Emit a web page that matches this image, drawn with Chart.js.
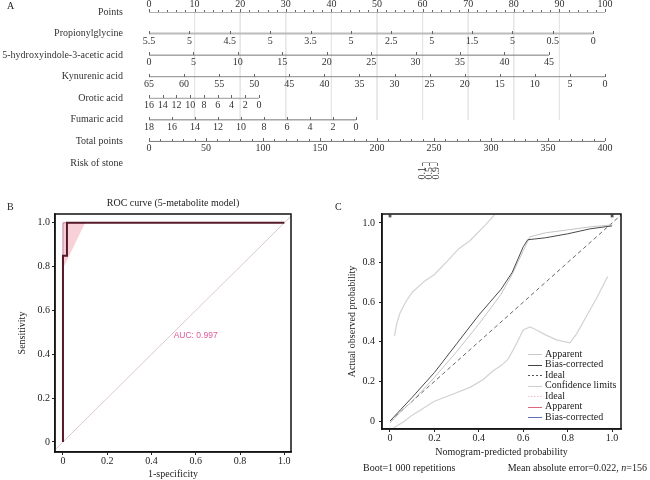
<!DOCTYPE html>
<html>
<head>
<meta charset="utf-8">
<script src="https://cdn.jsdelivr.net/npm/chart.js@4.4.0/dist/chart.umd.min.js"></script>
<style>
  body { margin: 0; background: #fff; }
  #wrap { position: relative; width: 650px; height: 480px; overflow: hidden; background: #fff; }
  canvas { position: absolute; }
</style>
</head>
<body>
<div id="wrap">
  <canvas id="nomogram" width="650" height="180" style="left:0px;top:0px"></canvas>
  <canvas id="roc" width="325" height="300" style="left:0px;top:180px"></canvas>
  <canvas id="calib" width="325" height="300" style="left:325px;top:180px"></canvas>
</div>
<script>
// ---- panel A: nomogram ----
var rowNames = ["Points", "Propionylglycine", "5-hydroxyindole-3-acetic acid", "Kynurenic acid",
  "Orotic acid", "Fumaric acid", "Total points", "Risk of stone"];
var pointsTicks = [0, 10, 20, 30, 40, 50, 60, 70, 80, 90, 100];
var propTicks = [5.5, 5, 4.5, 4, 3.5, 3, 2.5, 2, 1.5, 1, 0.5, 0];
var propLabels = ["5.5", "5", "4.5", "5", "3.5", "5", "2.5", "5", "1.5", "5", "0.5", "0"];
var propPointEnds = [0, 97.4];
var hiaaTicks = [0, 5, 10, 15, 20, 25, 30, 35, 40, 45];
var hiaaPointEnds = [0, 87.7];
var kynTicks = [65, 60, 55, 50, 45, 40, 35, 30, 25, 20, 15, 10, 5, 0];
var kynPointEnds = [0, 100];
var oroticTicks = [16, 14, 12, 10, 8, 6, 4, 2, 0];
var oroticPointEnds = [0, 24.1];
var fumaricTicks = [18, 16, 14, 12, 10, 8, 6, 4, 2, 0];
var fumaricPointEnds = [0, 45.4];
var totalTicks = [0, 50, 100, 150, 200, 250, 300, 350, 400];
var riskTicks = [0.1, 0.5, 0.9];
var riskTotals = [239.5, 246, 252.5];

// ---- panel B: ROC ----
var rocFpr = [0, 0, 0.018, 0.018, 1];
var rocTpr = [0, 0.85, 0.85, 1, 1];
var ciFpr = [0, 0, 0.1];
var ciTpr = [0.79, 1, 1];
var chanceFpr = [-0.05, 1.05];
var chanceTpr = [-0.05, 1.05];
var aucText = "AUC: 0.997";

// ---- panel C: calibration ----
var apparentX = [0, 0.05, 0.1, 0.2, 0.3, 0.4, 0.5, 0.55, 0.6, 0.63, 0.7, 0.8, 0.9, 1.0];
var apparentY = [-0.01, 0.05, 0.1, 0.22, 0.35, 0.49, 0.64, 0.74, 0.86, 0.93, 0.95, 0.965, 0.98, 0.99];
var biasX = [0, 0.05, 0.1, 0.2, 0.3, 0.4, 0.45, 0.5, 0.55, 0.6, 0.62, 0.7, 0.8, 0.9, 1.0];
var biasY = [0, 0.06, 0.12, 0.245, 0.39, 0.535, 0.6, 0.665, 0.75, 0.88, 0.915, 0.925, 0.945, 0.97, 0.985];
var idealX = [0, 1.05];
var idealY = [0, 1.05];
var upperX = [0.02, 0.03, 0.045, 0.07, 0.1, 0.16, 0.2, 0.26, 0.31, 0.36, 0.43, 0.47];
var upperY = [0.43, 0.49, 0.545, 0.6, 0.65, 0.71, 0.74, 0.81, 0.87, 0.91, 0.99, 1.04];
var lowerX = [0.015, 0.06, 0.1, 0.2, 0.27, 0.36, 0.42, 0.46, 0.5, 0.53, 0.56, 0.6, 0.63, 0.66, 0.7, 0.75, 0.81, 0.84, 0.88, 0.93, 0.98];
var lowerY = [-0.035, -0.005, 0.03, 0.1, 0.13, 0.17, 0.21, 0.25, 0.28, 0.31, 0.37, 0.46, 0.475, 0.46, 0.435, 0.41, 0.395, 0.44, 0.52, 0.62, 0.73];
var rugX = [0, 1];
var rugY = [1.035, 1.035];
var legendNames = ["Apparent", "Bias-corrected", "Ideal", "Confidence limits", "Ideal", "Apparent", "Bias-corrected"];
var probTicks = [0, 0.2, 0.4, 0.6, 0.8, 1.0];

var SERIF = '"Liberation Serif", "Times New Roman", serif';
Chart.defaults.font.family = SERIF;
Chart.defaults.font.size = 10;
Chart.defaults.color = "#222";
Chart.defaults.animation = false;

function zip(xs, ys) {
  return xs.map(function(x, i) { return {x: x, y: ys[i]}; });
}
// linear nomogram axis: tick value -> points
function toPts(vals, ends, ptEnds) {
  return vals.map(function(v) {
    return ptEnds[0] + (v - ends[0]) / (ends[1] - ends[0]) * (ptEnds[1] - ptEnds[0]);
  });
}
function range(a, b, step) {
  var out = [];
  for (var v = a; v <= b + 1e-9; v += step) out.push(v);
  return out;
}

var axisRows = [
  {row: 0, pts: pointsTicks, labels: pointsTicks.map(String), above: true, minor: range(0, 100, 2), color: "#666", width: 1},
  {row: 1, pts: toPts(propTicks, [5.5, 0], propPointEnds), labels: propLabels, color: "#bbb", width: 2},
  {row: 2, pts: toPts(hiaaTicks, [0, 45], hiaaPointEnds), labels: hiaaTicks.map(String), color: "#777", width: 1},
  {row: 3, pts: toPts(kynTicks, [65, 0], kynPointEnds), labels: kynTicks.map(String), color: "#888", width: 1},
  {row: 4, pts: toPts(oroticTicks, [16, 0], oroticPointEnds), labels: oroticTicks.map(String), color: "#999", width: 1},
  {row: 5, pts: toPts(fumaricTicks, [18, 0], fumaricPointEnds), labels: fumaricTicks.map(String), color: "#777", width: 1},
  {row: 6, pts: toPts(totalTicks, [0, 400], [0, 100]), labels: totalTicks.map(String), minor: range(0, 100, 2.5), color: "#777", width: 1},
  {row: 7, pts: toPts(riskTotals, [0, 400], [0, 100]), labels: riskTicks.map(String), rotated: true, color: "#777", width: 1}
];

var nomoSets = [];
axisRows.forEach(function(r) {
  nomoSets.push({
    data: [{x: Math.min.apply(null, r.pts), y: r.row}, {x: Math.max.apply(null, r.pts), y: r.row}],
    showLine: true, borderColor: r.color, borderWidth: r.width, pointRadius: 0
  });
});
pointsTicks.slice(1, -1).forEach(function(p) {
  nomoSets.push({
    data: [{x: p, y: 0}, {x: p, y: 5}],
    showLine: true, borderColor: "#e6e6e6", borderWidth: 1, pointRadius: 0
  });
});

// tick marks and tick labels of every nomogram row
var nomogramAxes = {
  id: "nomogramAxes",
  afterDatasetsDraw: function(chart) {
    var ctx = chart.ctx, x = chart.scales.x, y = chart.scales.y;
    ctx.save();
    ctx.font = "10px " + SERIF;
    ctx.fillStyle = "#333";
    ctx.strokeStyle = "#666";
    ctx.lineWidth = 1;
    axisRows.forEach(function(r) {
      var py = Math.round(y.getPixelForValue(r.row));
      ctx.beginPath();
      (r.minor || []).forEach(function(p) {
        var px = Math.round(x.getPixelForValue(p)) + 0.5;
        ctx.moveTo(px, py); ctx.lineTo(px, py - 2);
      });
      r.pts.forEach(function(p) {
        var px = Math.round(x.getPixelForValue(p)) + 0.5;
        ctx.moveTo(px, py); ctx.lineTo(px, r.rotated ? py + 3 : py - 3);
      });
      ctx.stroke();
      r.labels.forEach(function(lab, i) {
        var px = x.getPixelForValue(r.pts[i]);
        if (r.rotated) {
          ctx.save();
          ctx.translate(px, py + 4);
          ctx.rotate(-Math.PI / 2);
          ctx.textAlign = "right";
          ctx.textBaseline = "middle";
          ctx.fillText(lab, 0, 0);
          ctx.restore();
        } else {
          ctx.textAlign = "center";
          ctx.textBaseline = "middle";
          ctx.fillText(lab, px, r.above ? py - 8 : py + 7.5);
        }
      });
    });
    ctx.restore();
  }
};

// free text: panel letters, notes
var notes = {
  id: "notes",
  afterDraw: function(chart, args, opts) {
    var ctx = chart.ctx;
    ctx.save();
    (opts.items || []).forEach(function(it) {
      ctx.font = (it.size || 10) + "px " + (it.family || SERIF);
      ctx.fillStyle = it.color || "#222";
      ctx.textAlign = it.align || "left";
      ctx.textBaseline = "middle";
      var px = it.data ? chart.scales.x.getPixelForValue(it.x) : it.x;
      var py = it.data ? chart.scales.y.getPixelForValue(it.y) : it.y;
      ctx.fillText(it.text, px, py);
    });
    ctx.restore();
  }
};

var frame = {
  id: "frame",
  afterDatasetsDraw: function(chart) {
    var a = chart.chartArea, ctx = chart.ctx;
    ctx.save();
    ctx.strokeStyle = "#111";
    ctx.lineWidth = 1.5;
    ctx.strokeRect(a.left, a.top, a.right - a.left, a.bottom - a.top);
    ctx.restore();
  }
};

new Chart(document.getElementById("nomogram"), {
  type: "scatter",
  data: {datasets: nomoSets},
  options: {
    responsive: false,
    layout: {padding: {left: 0, right: 45, top: 12, bottom: 17}},
    plugins: {
      legend: {display: false},
      tooltip: {enabled: false},
      notes: {items: [{text: "A", x: 7, y: 6}]}
    },
    scales: {
      x: {type: "linear", min: 0, max: 100, display: false},
      y: {
        type: "linear", min: 0, max: 7, reverse: true,
        afterBuildTicks: function(s) { s.ticks = rowNames.map(function(n, i) { return {value: i}; }); },
        // hidden tick marks give the gap between row names and the axes
        grid: {display: false, drawTicks: true, tickLength: 26}, border: {display: false},
        ticks: {padding: 0, color: "#333", autoSkip: false, callback: function(v) { return rowNames[v]; }},
        afterFit: function(s) { s.width = 149; }
      }
    }
  },
  plugins: [nomogramAxes, notes]
});

function probAxis(o) {
  return {
    type: "linear", min: o.min, max: o.max,
    afterBuildTicks: function(s) { s.ticks = probTicks.map(function(v) { return {value: v}; }); },
    ticks: {padding: o.pad, color: "#222", callback: function(v) { return v === 0 ? "0" : v.toFixed(1); }},
    grid: {drawOnChartArea: false, drawTicks: true, tickLength: 3, color: "#222"},
    border: {display: true, color: "#222", width: 1.5},
    title: {display: true, text: o.title, color: "#222", padding: o.titlePad},
    afterFit: o.fit
  };
}

// ---- B ----
new Chart(document.getElementById("roc"), {
  type: "scatter",
  data: {
    datasets: [
      {data: zip(rocFpr, rocTpr), showLine: true, borderColor: "#561a28", borderWidth: 2, pointRadius: 0},
      {data: zip(chanceFpr, chanceTpr), showLine: true, borderColor: "#dccaca", borderWidth: 1, pointRadius: 0},
      {data: zip(ciFpr, ciTpr), showLine: true, fill: "shape", backgroundColor: "rgba(246,196,206,0.8)",
       borderColor: "#b98592", borderWidth: 1, pointRadius: 0}
    ]
  },
  options: {
    responsive: false,
    layout: {padding: {left: 0, right: 34, top: 0, bottom: 0}},
    plugins: {
      legend: {display: false},
      tooltip: {enabled: false},
      title: {display: true, text: "ROC curve (5-metabolite model)", fullSize: false, color: "#222",
        font: {size: 10, weight: "normal"}, padding: {top: 17, bottom: 5}},
      notes: {items: [
        {text: "B", x: 7, y: 27},
        {text: aucText, x: 0.5, y: 0.484, data: true, size: 8.5, family: '"Liberation Sans", Arial, sans-serif', color: "#e0589a"}
      ]}
    },
    scales: {
      x: probAxis({min: -0.036, max: 1.03, pad: 0, title: "1-specificity", titlePad: {top: 0, bottom: 0},
        fit: function(s) { s.height = 28; }}),
      y: probAxis({min: -0.046, max: 1.04, pad: 2, title: "Sensitivity", titlePad: {top: 16, bottom: 0},
        fit: function(s) { s.width = 55; }})
    }
  },
  plugins: [frame, notes]
});

// ---- C ----
var legendStyles = [
  {color: "#c8c8c8"}, {color: "#444"}, {color: "#555", dash: [2, 2]}, {color: "#cfcfcf"},
  {color: "#f0bccb", dash: [1.5, 1.5]}, {color: "#e0647c"}, {color: "#5d70c0"}
];
var calibLegend = {
  id: "calibLegend",
  afterDraw: function(chart) {
    var ctx = chart.ctx;
    ctx.save();
    ctx.font = "10px " + SERIF;
    ctx.textBaseline = "middle";
    ctx.textAlign = "left";
    legendNames.forEach(function(name, i) {
      var yy = 174 + i * 10.55, st = legendStyles[i];
      ctx.strokeStyle = st.color;
      ctx.lineWidth = 1;
      ctx.setLineDash(st.dash || []);
      ctx.beginPath(); ctx.moveTo(203, Math.round(yy) + 0.5); ctx.lineTo(217, Math.round(yy) + 0.5); ctx.stroke();
      ctx.fillStyle = "#222";
      ctx.fillText(name, 220, yy);
    });
    ctx.setLineDash([]);
    // footer
    ctx.fillText("Boot=1 000 repetitions", 38, 288);
    var a = "Mean absolute error=0.022, ", b = "n", c = "=156";
    var wa = ctx.measureText(a).width, wc = ctx.measureText(c).width;
    ctx.font = "italic 10px " + SERIF;
    var wb = ctx.measureText(b).width;
    var x0 = 322 - wa - wb - wc;
    ctx.font = "10px " + SERIF;
    ctx.fillText(a, x0, 288);
    ctx.font = "italic 10px " + SERIF;
    ctx.fillText(b, x0 + wa, 288);
    ctx.font = "10px " + SERIF;
    ctx.fillText(c, x0 + wa + wb, 288);
    ctx.restore();
  }
};

new Chart(document.getElementById("calib"), {
  type: "scatter",
  data: {
    datasets: [
      {data: zip(biasX, biasY), showLine: true, borderColor: "#4a4a4a", borderWidth: 1, pointRadius: 0},
      {data: zip(apparentX, apparentY), showLine: true, borderColor: "#c4c4c4", borderWidth: 1, pointRadius: 0},
      {data: zip(idealX, idealY), showLine: true, borderColor: "#666", borderWidth: 1, borderDash: [4, 3], pointRadius: 0},
      {data: zip(upperX, upperY), showLine: true, borderColor: "#d2d2d2", borderWidth: 1.2, pointRadius: 0},
      {data: zip(lowerX, lowerY), showLine: true, borderColor: "#d2d2d2", borderWidth: 1.2, pointRadius: 0},
      {data: zip(rugX, rugY), showLine: false, pointStyle: "rect", pointRadius: 2, backgroundColor: "#555", borderWidth: 0}
    ]
  },
  options: {
    responsive: false,
    layout: {padding: {left: 0, right: 29, top: 34, bottom: 21}},
    plugins: {
      legend: {display: false},
      tooltip: {enabled: false},
      notes: {items: [{text: "C", x: 10, y: 27}]}
    },
    scales: {
      x: probAxis({min: -0.036, max: 1.04, pad: 0, title: "Nomogram-predicted probability", titlePad: {top: 0, bottom: 1},
        fit: function(s) { s.height = 30; }}),
      y: probAxis({min: -0.04, max: 1.045, pad: 4, title: "Actual observed probability", titlePad: {top: 21, bottom: 0},
        fit: function(s) { s.width = 57; }})
    }
  },
  plugins: [frame, notes, calibLegend]
});
</script>
</body>
</html>
